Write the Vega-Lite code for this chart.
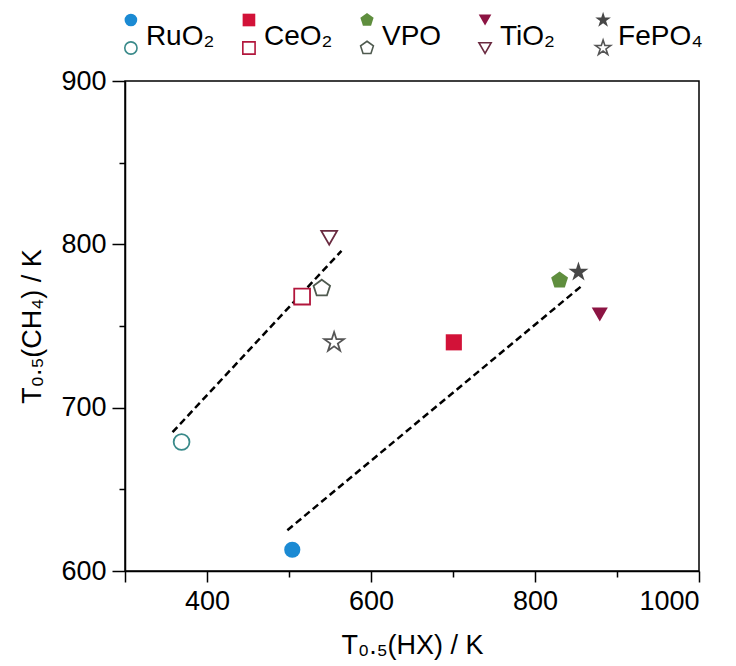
{
  "$schema": "https://vega.github.io/schema/vega-lite/v6.json",
  "padding": {"left": 18, "top": 6, "right": 5, "bottom": 5},
  "spacing": 19,
  "bounds": "flush",
  "background": "white",
  "config": {
    "font": "Liberation Sans",
    "view": {"stroke": "black", "strokeWidth": 1.5},
    "axis": {
      "domainColor": "black", "domainWidth": 1.5, "tickColor": "black", "tickWidth": 1.5,
      "labelColor": "black", "labelFont": "Liberation Sans", "labelFontSize": 27,
      "titleColor": "black", "titleFont": "Liberation Sans", "titleFontSize": 27, "titleFontWeight": "normal",
      "grid": false, "labelPadding": 6
    }
  },
  "datasets": {
    "points": [
      {"material": "RuO2", "type": "filled", "x": 504, "y": 613},
      {"material": "RuO2", "type": "open", "x": 369, "y": 679},
      {"material": "CeO2", "type": "filled", "x": 701, "y": 740},
      {"material": "CeO2", "type": "open", "x": 516, "y": 768},
      {"material": "VPO", "type": "filled", "x": 830, "y": 778},
      {"material": "VPO", "type": "open", "x": 540, "y": 773},
      {"material": "TiO2", "type": "filled", "x": 879, "y": 757},
      {"material": "TiO2", "type": "open", "x": 549, "y": 804},
      {"material": "FePO4", "type": "filled", "x": 853, "y": 783},
      {"material": "FePO4", "type": "open", "x": 555, "y": 740}
    ],
    "fits": [
      {"group": "open", "x": 358, "y": 685},
      {"group": "open", "x": 564, "y": 796},
      {"group": "filled", "x": 498, "y": 625},
      {"group": "filled", "x": 858, "y": 775}
    ],
    "legend": [
      {"material": "RuO2", "type": "filled", "label": ""},
      {"material": "RuO2", "type": "open", "label": ""},
      {"material": "RuO2", "type": "label", "label": "RuO₂"},
      {"material": "CeO2", "type": "filled", "label": ""},
      {"material": "CeO2", "type": "open", "label": ""},
      {"material": "CeO2", "type": "label", "label": "CeO₂"},
      {"material": "VPO", "type": "filled", "label": ""},
      {"material": "VPO", "type": "open", "label": ""},
      {"material": "VPO", "type": "label", "label": "VPO"},
      {"material": "TiO2", "type": "filled", "label": ""},
      {"material": "TiO2", "type": "open", "label": ""},
      {"material": "TiO2", "type": "label", "label": "TiO₂"},
      {"material": "FePO4", "type": "filled", "label": ""},
      {"material": "FePO4", "type": "open", "label": ""},
      {"material": "FePO4", "type": "label", "label": "FePO₄"}
    ]
  },
  "vconcat": [
    {
      "width": 484,
      "height": 56,
      "view": {"stroke": null},
      "data": {"name": "legend"},
      "layer": [
        {
          "transform": [{"filter": "datum.type === 'filled'"}],
          "mark": {"type": "point", "filled": true, "size": 160, "strokeWidth": 0, "opacity": 1},
          "encoding": {
            "x": {"field": "material", "type": "nominal", "sort": ["RuO2", "CeO2", "VPO", "TiO2", "FePO4"], "scale": {"type": "point", "padding": 0.05}, "axis": null},
            "y": {"field": "type", "type": "nominal", "sort": ["filled", "label", "open"], "scale": {"type": "point", "padding": 1.24}, "axis": null},
            "shape": {"field": "material", "type": "nominal", "legend": null, "scale": {"domain": ["RuO2", "CeO2", "VPO", "TiO2", "FePO4"], "range": ["circle", "square", "M0,-1.1L1.046,-0.34L0.647,0.89L-0.647,0.89L-1.046,-0.34Z", "triangle-down", "M0,-1.3L0.292,-0.402L1.236,-0.402L0.472,0.153L0.764,1.052L0,0.497L-0.764,1.052L-0.472,0.153L-1.236,-0.402L-0.292,-0.402Z"]}},
            "fill": {"field": "material", "type": "nominal", "legend": null, "scale": {"domain": ["RuO2", "CeO2", "VPO", "TiO2", "FePO4"], "range": ["#1B8AD3", "#D21238", "#5F8E3E", "#8C1443", "#474747"]}}
          }
        },
        {
          "transform": [{"filter": "datum.type === 'open'"}],
          "mark": {"type": "point", "fill": "white", "size": 150, "strokeWidth": 1.6, "opacity": 1},
          "encoding": {
            "x": {"field": "material", "type": "nominal", "sort": ["RuO2", "CeO2", "VPO", "TiO2", "FePO4"], "axis": null},
            "y": {"field": "type", "type": "nominal", "sort": ["filled", "label", "open"], "axis": null},
            "shape": {"field": "material", "type": "nominal", "legend": null},
            "stroke": {"field": "material", "type": "nominal", "legend": null, "scale": {"domain": ["RuO2", "CeO2", "VPO", "TiO2", "FePO4"], "range": ["#3A8A8A", "#B2163C", "#4F5A4F", "#6A2A40", "#555555"]}}
          }
        },
        {
          "transform": [{"filter": "datum.type === 'label'"}],
          "mark": {"type": "text", "align": "left", "baseline": "middle", "dx": 15, "dy": 3, "fontSize": 28, "font": "Liberation Sans", "color": "black"},
          "encoding": {
            "x": {"field": "material", "type": "nominal", "sort": ["RuO2", "CeO2", "VPO", "TiO2", "FePO4"], "axis": null},
            "y": {"field": "type", "type": "nominal", "sort": ["filled", "label", "open"], "axis": null},
            "text": {"field": "label"}
          }
        }
      ]
    },
    {
      "width": 574,
      "height": 490,
      "layer": [
        {
          "data": {"name": "fits"},
          "mark": {"type": "line", "color": "black", "strokeWidth": 2.5, "strokeDash": [7, 4]},
          "encoding": {
            "x": {"field": "x", "type": "quantitative"},
            "y": {"field": "y", "type": "quantitative"},
            "detail": {"field": "group"}
          }
        },
        {
          "data": {"name": "points"},
          "transform": [{"filter": "datum.type === 'filled'"}],
          "mark": {"type": "point", "filled": true, "size": 260, "strokeWidth": 0, "opacity": 1},
          "encoding": {
            "x": {"field": "x", "type": "quantitative"},
            "y": {"field": "y", "type": "quantitative"},
            "shape": {"field": "material", "type": "nominal", "legend": null, "scale": {"domain": ["RuO2", "CeO2", "VPO", "TiO2", "FePO4"], "range": ["circle", "square", "M0,-1.1L1.046,-0.34L0.647,0.89L-0.647,0.89L-1.046,-0.34Z", "triangle-down", "M0,-1.3L0.292,-0.402L1.236,-0.402L0.472,0.153L0.764,1.052L0,0.497L-0.764,1.052L-0.472,0.153L-1.236,-0.402L-0.292,-0.402Z"]}},
            "fill": {"field": "material", "type": "nominal", "legend": null, "scale": {"domain": ["RuO2", "CeO2", "VPO", "TiO2", "FePO4"], "range": ["#1B8AD3", "#D21238", "#5F8E3E", "#8C1443", "#474747"]}}
          }
        },
        {
          "data": {"name": "points"},
          "transform": [{"filter": "datum.type === 'open'"}],
          "mark": {"type": "point", "fill": "white", "size": 250, "strokeWidth": 1.8, "opacity": 1},
          "encoding": {
            "x": {"field": "x", "type": "quantitative"},
            "y": {"field": "y", "type": "quantitative"},
            "shape": {"field": "material", "type": "nominal", "legend": null},
            "stroke": {"field": "material", "type": "nominal", "legend": null, "scale": {"domain": ["RuO2", "CeO2", "VPO", "TiO2", "FePO4"], "range": ["#3E6E66", "#B2163C", "#555555", "#444444", "#555555"]}}
          }
        }
      ],
      "encoding": {
        "x": {
          "field": "x", "type": "quantitative",
          "scale": {"domain": [300, 1000], "nice": false, "zero": false},
          "axis": {
            "title": "T₀.₅(HX) / K", "titlePadding": 18, "format": "d",
            "values": [300, 400, 500, 600, 700, 800, 900, 1000],
            "labelExpr": "datum.value % 200 === 0 ? datum.label : ''",
            "tickSize": {"condition": {"test": "datum.value % 200 === 0 || datum.value === 300", "value": 11}, "value": 6}
          }
        },
        "y": {
          "field": "y", "type": "quantitative",
          "scale": {"domain": [600, 900], "nice": false, "zero": false},
          "axis": {
            "title": "T₀.₅(CH₄) / K", "titlePadding": 14, "format": "d",
            "values": [600, 650, 700, 750, 800, 850, 900],
            "labelExpr": "datum.value % 100 === 0 ? datum.label : ''",
            "tickSize": {"condition": {"test": "datum.value % 100 === 0", "value": 13}, "value": 6}
          }
        }
      }
    }
  ]
}
